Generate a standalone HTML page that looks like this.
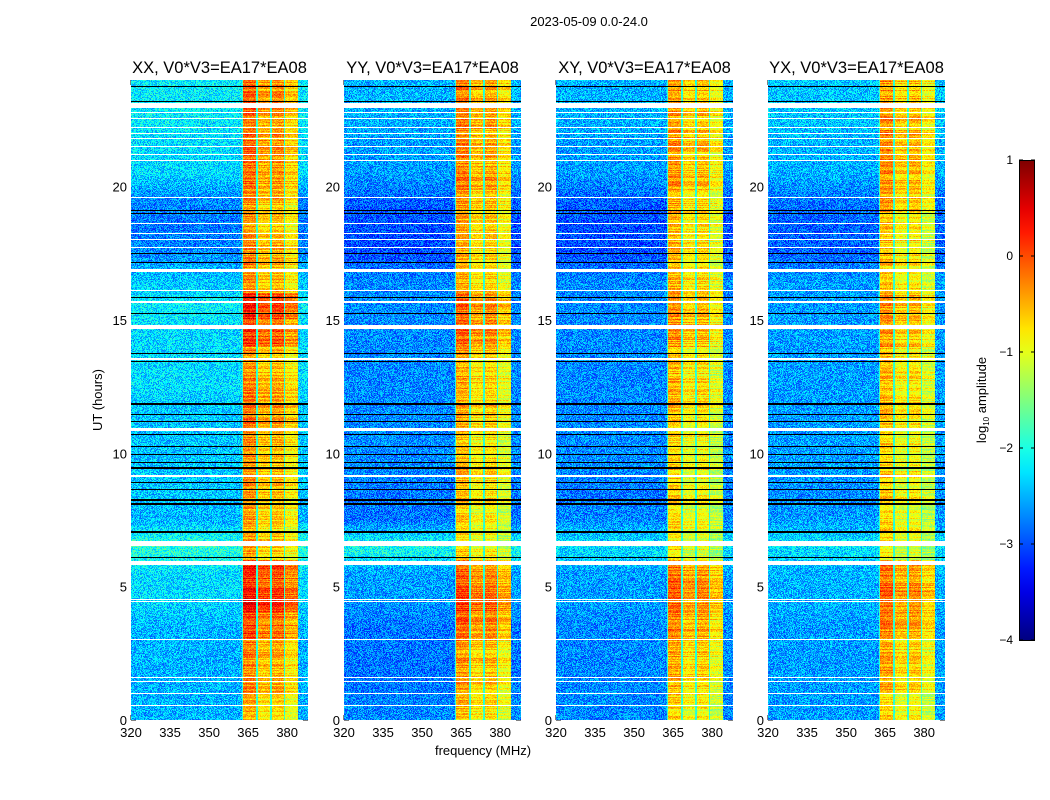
<!DOCTYPE html>
<html><head><meta charset="utf-8">
<style>
body{margin:0;background:#fff;width:1050px;height:800px;overflow:hidden;font-family:"Liberation Sans",sans-serif;}
#wrap{position:relative;width:1050px;height:800px;}
canvas.spec{position:absolute;image-rendering:pixelated;}
</style></head><body>
<div id="wrap">
<svg id="svg" width="1050" height="800" style="position:absolute;left:0;top:0"></svg>
</div>
<script>
// ---- data ----
const panelTitles = ["XX, V0*V3=EA17*EA08","YY, V0*V3=EA17*EA08","XY, V0*V3=EA17*EA08","YX, V0*V3=EA17*EA08"];
const xTicks = [320,335,350,365,380];
const yTicks = [0,5,10,15,20];
const cbTicks = [1,0,-1,-2,-3,-4];
// hourly background log-amplitude (hour 0..23), per panel
const bgXX = [-2.6,-2.6,-2.6,-2.6,-2.4,-2.4,-2.0,-2.6,-2.5,-2.5,-2.5,-2.5,-2.4,-2.4,-2.4,-2.3,-2.5,-2.8,-2.9,-2.8,-2.4,-2.4,-2.3,-2.3];
const bgYY = [-2.8,-2.9,-2.9,-2.9,-2.7,-2.7,-2.1,-2.9,-2.9,-2.8,-2.8,-2.8,-2.8,-2.8,-2.8,-2.8,-2.8,-3.1,-3.1,-3.0,-2.7,-2.7,-2.6,-2.6];
const bgXY = [-2.8,-2.8,-2.8,-2.8,-2.7,-2.7,-2.3,-2.8,-2.9,-2.8,-2.8,-2.8,-2.8,-2.8,-2.8,-2.8,-2.8,-3.1,-3.1,-3.0,-2.7,-2.7,-2.6,-2.6];
const bgYX = [-2.7,-2.7,-2.7,-2.7,-2.6,-2.6,-2.3,-2.7,-2.8,-2.7,-2.7,-2.7,-2.7,-2.7,-2.7,-2.7,-2.7,-3.0,-3.0,-2.9,-2.6,-2.6,-2.5,-2.5];
// hourly RFI level per panel
const rfiXX = [-0.6,-0.4,-0.4,-0.1,0.2,0.1,-0.6,-0.6,-0.5,-0.5,-0.4,-0.3,-0.4,-0.5,0.0,0.1,-0.5,-0.4,-0.5,-0.5,-0.3,-0.3,-0.3,-0.3];
const rfiYY = [-0.7,-0.5,-0.5,-0.3,-0.1,-0.2,-0.8,-0.8,-0.7,-0.7,-0.7,-0.6,-0.6,-0.6,-0.3,-0.3,-0.6,-0.6,-0.6,-0.5,-0.4,-0.4,-0.4,-0.4];
const rfiXY = [-0.8,-0.6,-0.6,-0.4,-0.2,-0.3,-0.9,-0.9,-0.8,-0.8,-0.8,-0.7,-0.7,-0.7,-0.5,-0.5,-0.7,-0.7,-0.7,-0.6,-0.5,-0.5,-0.5,-0.5];
const rfiYX = [-0.8,-0.6,-0.6,-0.4,-0.2,-0.3,-0.9,-0.9,-0.8,-0.8,-0.8,-0.7,-0.7,-0.7,-0.5,-0.5,-0.7,-0.7,-0.7,-0.6,-0.5,-0.5,-0.5,-0.5];
// RFI sub-bands (MHz start, end, relative level)
const bandStart = [363,368.6,374,379.3];
const bandEnd   = [368,373.3,378.7,384];
const bandRel   = [0.15,-0.15,-0.05,-0.35];
// flagged (white) intervals in hours
const flagStart = [22.95,16.8,15.64,14.66,13.5,10.84,9.11,6.52,5.81,22.76,22.54,22.2,21.98,21.79,21.5,21.2,20.96,19.58,18.6,18.22,18.0,17.7,16.1,4.5,4.42,3.0,1.58,1.43,0.98,0.52];
const flagEnd   = [23.14,16.9,15.71,14.81,13.57,10.95,9.19,6.71,5.96,22.8,22.58,22.24,22.02,21.83,21.54,21.24,21.0,19.62,18.64,18.26,18.04,17.74,16.14,4.54,4.46,3.04,1.62,1.47,1.02,0.56];
// zero-data (black) lines in hours
const blackHours = [23.74,23.21,19.12,19.01,17.51,17.14,15.86,15.26,13.76,13.43,11.85,11.44,11.21,10.69,10.27,9.94,9.67,9.45,8.89,8.66,8.25,8.1,7.05,6.1];

const bgs=[bgXX,bgYY,bgXY,bgYX], rfis=[rfiXX,rfiYY,rfiXY,rfiYX];
const panelX=[131,344,556,768], PW=177, PT=80, PH=640;
const F0=320,F1=388, T0=0,T1=24;
const xs=(f,p)=>panelX[p]+(f-F0)/(F1-F0)*PW;
const ys=h=>PT+PH-(h-T0)/(T1-T0)*PH;

function jet(v){
  const r=Math.min(Math.max(Math.min(4*v-1.5,-4*v+4.5),0),1);
  const g=Math.min(Math.max(Math.min(4*v-0.5,-4*v+3.5),0),1);
  const b=Math.min(Math.max(Math.min(4*v+0.5,-4*v+2.5),0),1);
  return [r*255|0,g*255|0,b*255|0];
}
function hash(i,j){let h=(i*374761393+j*668265263)|0;h=(h^(h>>>13))*1274126177|0;return ((h^(h>>>16))>>>0)/4294967295;}
function interp(arr,h){const a=Math.max(0,Math.min(23,h-0.5));const i=Math.floor(a),fr=a-i;return arr[i]*(1-fr)+arr[Math.min(23,i+1)]*fr;}

const NS="http://www.w3.org/2000/svg", svg=document.getElementById('svg');
function el(tag,attrs,txt){const e=document.createElementNS(NS,tag);for(const k in attrs)e.setAttribute(k,attrs[k]);if(txt!==undefined)e.textContent=txt;svg.appendChild(e);return e;}

const wrap=document.getElementById('wrap');
for(let p=0;p<4;p++){
  const c=document.createElement('canvas');
  c.width=PW;c.height=PH;c.className='spec';
  c.style.left=panelX[p]+'px';c.style.top=PT+'px';
  
  
  wrap.insertBefore(c,svg.nextSibling);
  const ctx=c.getContext('2d'), img=ctx.createImageData(PW,PH);
  for(let y=0;y<PH;y++){
    const h=T1-(y+0.5)/PH*(T1-T0);
    const hi=Math.min(23,Math.floor(h));
    let flag=false;for(let k=0;k<flagStart.length;k++)if(h>=flagStart[k]&&h<=flagEnd[k])flag=true;
    let blk=false;for(let k=0;k<blackHours.length;k++)if(Math.abs(h-blackHours[k])<0.019)blk=true;
    const rowN=(hash(y,p*7+3)-0.5)*0.6;
    const bg=(h>6.15&&h<6.5)?bgs[p][6]:interp(bgs[p],h)+0.1;
    for(let x=0;x<PW;x++){
      const f=F0+(x+0.5)/PW*(F1-F0);
      let v=bg+(hash(x+p*1000,y)-0.5)*0.9;
      if(f>=bandStart[0]-0.5&&f<=bandEnd[3]){
        v=-1.9+(hash(x,y+p*3000)-0.5)*0.4;
        for(let b=0;b<bandStart.length;b++)if(f>=bandStart[b]&&f<=bandEnd[b])
          v=rfis[p][hi]+bandRel[b]+rowN+(hash(x*3,y+p*11)-0.5)*0.5;
      }
      let col;
      if(flag)col=[255,255,255];else if(blk)col=[0,0,0];
      else col=jet(Math.min(1,Math.max(0,(v+4)/5)));
      const i=(y*PW+x)*4;img.data[i]=col[0];img.data[i+1]=col[1];img.data[i+2]=col[2];img.data[i+3]=255;
    }
  }
  ctx.putImageData(img,0,0);
  el('rect',{x:panelX[p]+0.5,y:PT+0.5,width:PW-1,height:PH-1,fill:'none',stroke:'#000','stroke-width':1,});
  el('text',{x:panelX[p]+PW/2,y:73,'text-anchor':'middle','font-size':16.5,},panelTitles[p]);
  xTicks.forEach(t=>{const x=xs(t,p);
    el('line',{x1:x,x2:x,y1:PT+PH,y2:PT+PH-5,stroke:'#000',});
    el('line',{x1:x,x2:x,y1:PT,y2:PT+5,stroke:'#000',});
    el('text',{x:x,y:737,'text-anchor':'middle','font-size':13,},t);});
  yTicks.forEach(t=>{const y=ys(t);
    el('line',{x1:panelX[p],x2:panelX[p]+5,y1:y,y2:y,stroke:'#000',});
    el('line',{x1:panelX[p]+PW,x2:panelX[p]+PW-5,y1:y,y2:y,stroke:'#000',});
    el('text',{x:panelX[p]-4,y:y+5,'text-anchor':'end','font-size':13,},t);});
}
el('text',{x:589,y:26,'text-anchor':'middle','font-size':13,},'2023-05-09 0.0-24.0');
el('text',{x:483,y:755,'text-anchor':'middle','font-size':13,},'frequency (MHz)');
el('text',{x:102,y:400,'text-anchor':'middle','font-size':13,transform:'rotate(-90 102 400)',},'UT (hours)');
const defs=el('defs',{});
const grad=document.createElementNS(NS,'linearGradient');grad.setAttribute('id','jetg');grad.setAttribute('x1',0);grad.setAttribute('x2',0);grad.setAttribute('y1',1);grad.setAttribute('y2',0);
for(let i=0;i<=20;i++){const c=jet(i/20);const s=document.createElementNS(NS,'stop');s.setAttribute('offset',i/20);s.setAttribute('stop-color',`rgb(${c})`);grad.appendChild(s);}
defs.appendChild(grad);
el('rect',{x:1019.5,y:160.5,width:15,height:480,fill:'url(#jetg)',stroke:'#000',});
cbTicks.forEach(t=>{const y=160+(1-t)/5*480;
  el('line',{x1:1019,x2:1023,y1:y,y2:y,stroke:'#000',});
  el('line',{x1:1031,x2:1035,y1:y,y2:y,stroke:'#000',});
  el('text',{x:1013,y:y+4,'text-anchor':'end','font-size':12,},t<0?'\u2212'+(-t):t);});
const lab=el('text',{x:986,y:400,'text-anchor':'middle','font-size':13,transform:'rotate(-90 986 400)',});
lab.innerHTML='log<tspan font-size="8" dy="3">10</tspan><tspan dy="-3"> amplitude</tspan>';
</script>
</body></html>
